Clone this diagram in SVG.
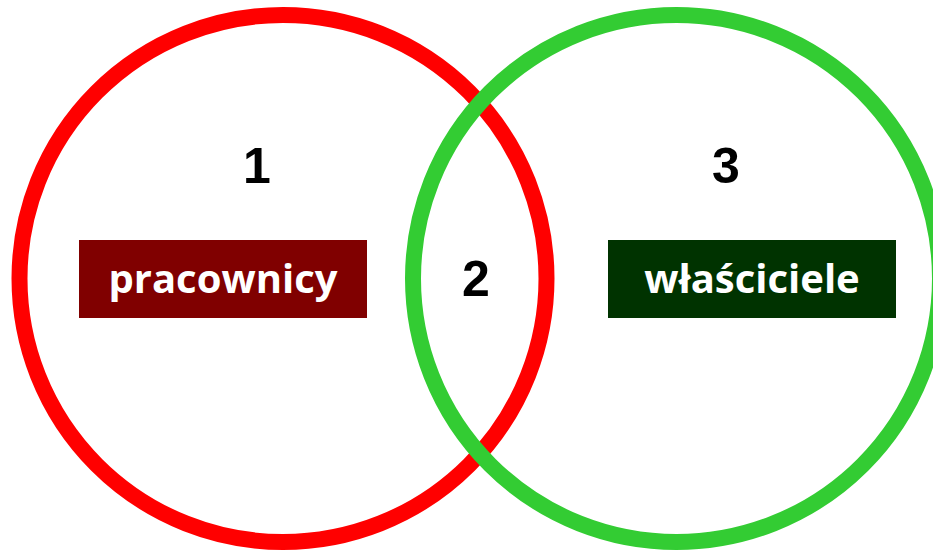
<svg xmlns="http://www.w3.org/2000/svg" width="933" height="551" viewBox="0 0 933 551">
  <style>
    .ring { fill: none; stroke-width: 16; }
    .num { font-family: "Liberation Sans", Arial, sans-serif; font-weight: bold; font-size: 50px; fill: #000000; text-anchor: middle; }
    .lbl { font-family: "Open Sans", "Noto Sans", sans-serif; font-weight: bold; font-size: 40px; fill: #ffffff; text-anchor: middle; }
  </style>
  <rect width="933" height="551" fill="#ffffff"/>
  <g id="connectors"></g>
  <g id="set-red">
    <circle class="ring" cx="283" cy="278.5" r="263.5" stroke="#ff0000"/>
  </g>
  <g id="set-green">
    <circle class="ring" cx="676.5" cy="278.5" r="263.5" stroke="#33cc33"/>
  </g>
  <g id="region-1">
    <text class="num" x="257" y="183">1</text>
  </g>
  <g id="region-2">
    <text class="num" x="476" y="296">2</text>
  </g>
  <g id="region-3">
    <text class="num" x="726" y="183">3</text>
  </g>
  <g id="label-pracownicy">
    <rect x="79" y="240" width="288" height="78" fill="#800000"/>
    <text class="lbl" x="223" y="293">pracownicy</text>
  </g>
  <g id="label-wlasciciele">
    <rect x="608" y="240" width="288" height="78" fill="#003300"/>
    <text class="lbl" x="752" y="293">właściciele</text>
  </g>
</svg>
